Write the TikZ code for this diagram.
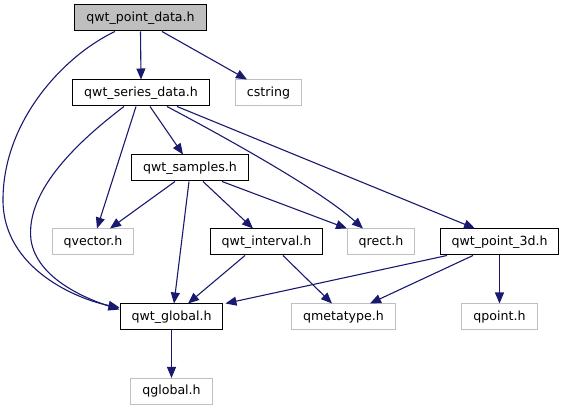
\documentclass[tikz,border=0pt]{standalone}
\usepackage{fontspec}
\setmainfont{DejaVu Sans}
\usepackage{xcolor}
\definecolor{edgeblue}{HTML}{191970}
\definecolor{boxgray}{HTML}{BFBFBF}
\usetikzlibrary{arrows.meta}

\begin{document}
\begin{tikzpicture}[
		x=1pt, y=-1pt,
		hdr/.style={draw=black, line width=1pt, font=\fontsize{12.6}{14}\selectfont,
			inner xsep=11.5pt, inner ysep=0pt, minimum height=26pt},
		roothdr/.style={hdr, fill=boxgray},
		syshdr/.style={hdr, draw=boxgray},
		dep/.style={draw=edgeblue, line width=1.1pt, -{Triangle[length=11pt,width=9pt]}}
	]
		\useasboundingbox (0,0) rectangle (566,411);

		% Headers of the project
		\node[roothdr] (pd) at (140.5,18) {qwt\_point\_data.h};
		\node[hdr] (sd) at (141,93) {qwt\_series\_data.h};
		\node[hdr] (sm) at (190,168) {qwt\_samples.h};
		\node[hdr] (iv) at (266.5,242) {qwt\_interval.h};
		\node[hdr] (p3) at (499.5,242) {qwt\_point\_3d.h};
		\node[hdr] (gl) at (171.5,317) {qwt\_global.h};

		% System headers
		\node[syshdr] (cs) at (268.5,93) {cstring};
		\node[syshdr] (qv) at (93,242) {qvector.h};
		\node[syshdr] (qr) at (381,242) {qrect.h};
		\node[syshdr] (mt) at (343.5,317) {qmetatype.h};
		\node[syshdr] (qp) at (499.5,317) {qpoint.h};
		\node[syshdr] (qg) at (171.5,391.5) {qglobal.h};

		% Straight includes (from south to north)
		\foreach \a/\da/\b/\db in {pd/0/sd/0, pd/21.5/cs/-21.5, sd/-5/qv/4, sd/9/sm/-7,
				sd/36/p3/-24.5, sm/-15/qv/17, sm/-1/gl/2.5, sm/13/iv/-13.5, sm/32/qr/-34,
				iv/-21.5/gl/16.5, iv/16.5/mt/-11.5, p3/-26.5/mt/26.5, p3/0/qp/0, gl/0/qg/0} {
			\draw[dep] ([xshift=\da pt]\a.south) -- ([xshift=\db pt]\b.north);
		}
		\draw[dep] ([xshift=-52.5pt]p3.south) -- ([xshift=2pt]gl.north east);

		% Curved includes
		\draw[dep] ([xshift=26pt]sd.south) .. controls (230,140) and (320,190) .. ([xshift=-18pt]qr.north);
		\draw[dep] ([xshift=-25.5pt]pd.south) .. controls (65,55) and (3,120) .. (3,200)
			.. controls (3,270) and (80,300) .. ([yshift=-4pt]gl.north west);
		\draw[dep] ([xshift=-17pt]sd.south) .. controls (80,140) and (25,190) .. (31,240)
			.. controls (37,280) and (90,300) .. ([yshift=-6pt]gl.north west);
	\end{tikzpicture}
\end{document}
